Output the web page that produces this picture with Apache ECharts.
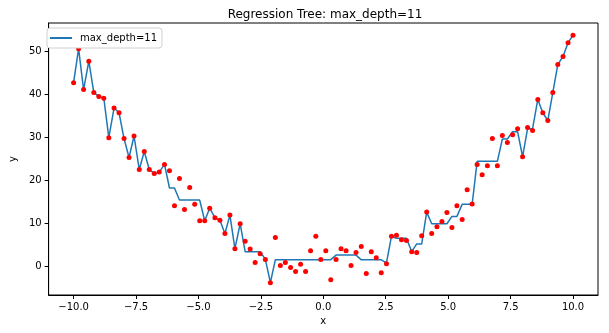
<!DOCTYPE html>
<html>
<head>
<meta charset="utf-8">
<script src="https://cdn.jsdelivr.net/npm/echarts@6/dist/echarts.min.js"></script>
<style>html,body{margin:0;padding:0;background:#fff}#c{width:609px;height:333px}</style>
</head>
<body>
<div id="c"></div>
<script>
const xValues = [-10.00,-9.80,-9.60,-9.39,-9.19,-8.99,-8.79,-8.59,-8.38,-8.18,
-7.98,-7.78,-7.58,-7.37,-7.17,-6.97,-6.77,-6.57,-6.36,-6.16,
-5.96,-5.76,-5.56,-5.35,-5.15,-4.95,-4.75,-4.55,-4.34,-4.14,
-3.94,-3.74,-3.54,-3.33,-3.13,-2.93,-2.73,-2.53,-2.32,-2.12,
-1.92,-1.72,-1.52,-1.31,-1.11,-0.91,-0.71,-0.51,-0.30,-0.10,
0.10,0.30,0.51,0.71,0.91,1.11,1.31,1.52,1.72,1.92,
2.12,2.32,2.53,2.73,2.93,3.13,3.33,3.54,3.74,3.94,
4.14,4.34,4.55,4.75,4.95,5.15,5.35,5.56,5.76,5.96,
6.16,6.36,6.57,6.77,6.97,7.17,7.37,7.58,7.78,7.98,
8.18,8.38,8.59,8.79,8.99,9.19,9.39,9.60,9.80,10.00];

const yPoints = [42.7,50.6,41.1,47.7,40.4,39.5,39.1,29.9,36.8,35.7,
29.7,25.3,30.3,22.5,26.7,22.5,21.6,21.9,23.7,22.2,
14.1,20.4,13.2,18.3,14.4,10.6,10.6,13.5,11.3,10.7,
7.6,11.9,4.1,9.9,5.8,4.0,0.9,2.9,1.6,-3.8,
6.7,0.2,0.9,-0.3,-1.2,0.5,-1.2,3.6,7.0,1.6,
3.6,-3.1,1.6,4.1,3.6,0.2,3.2,4.6,-1.7,3.4,
2.0,-1.5,0.6,7.0,7.2,6.2,6.0,3.4,3.2,7.1,
12.6,7.6,9.2,10.4,12.5,9.0,14.1,10.9,17.8,14.5,
23.7,21.3,23.4,29.7,23.4,30.4,28.8,30.6,32.0,25.5,
32.3,31.6,38.8,35.7,33.9,40.4,46.9,48.8,52.0,53.7];

const yPred = [42.7,50.6,41.1,47.7,40.4,39.5,39.1,29.9,36.8,35.7,
29.7,25.3,30.3,22.5,26.7,22.5,21.6,21.9,23.7,18.2,
18.2,15.4,15.4,15.4,15.4,15.4,10.6,13.5,11.3,10.7,
7.6,11.9,4.1,9.9,3.4,3.4,3.4,3.4,1.6,-3.8,
1.55,1.55,1.55,1.55,1.55,1.55,1.55,1.55,1.55,1.55,
1.55,1.55,2.6,2.6,2.6,2.6,2.6,1.5,1.5,1.5,
1.5,1.5,0.8,7.0,6.5,6.5,6.5,3.4,5.2,5.2,
12.6,9.9,9.9,9.9,9.9,11.6,11.6,14.4,14.4,14.4,
24.4,24.4,24.4,24.4,24.4,29.6,29.6,31.3,31.3,25.5,
32.0,32.0,38.8,35.7,33.9,40.4,46.9,48.8,52.0,53.7];

const xTicks = [-10, -7.5, -5, -2.5, 0, 2.5, 5, 7.5, 10];
const yTicks = [0, 10, 20, 30, 40, 50];
const seriesName = 'max_depth=11';
const titleText = 'Regression Tree: max_depth=11';

const fmtX = v => (v < 0 ? '\u2212' : '') + Math.abs(v).toFixed(1);
const fmtY = v => (v < 0 ? '\u2212' : '') + Math.abs(v);
const font = 'DejaVu Sans';

const chart = echarts.init(document.getElementById('c'), null, {renderer: 'canvas'});
chart.setOption({
  animation: false,
  textStyle: {fontFamily: font, color: '#000'},
  title: {
    text: titleText, left: 320, top: 4, textAlign: 'center',
    textStyle: {fontFamily: font, fontSize: 12, fontWeight: 'normal', color: '#000'}
  },
  grid: {left: 42, right: 11, top: 23, bottom: 38, show: true, borderColor: '#000', borderWidth: 1, backgroundColor: 'transparent'},
  legend: {
    data: [seriesName], left: 47, top: 28, orient: 'vertical',
    backgroundColor: '#fff', borderColor: '#d0d0d0', borderWidth: 1, borderRadius: 3,
    padding: [5, 5, 5, 3], itemWidth: 22, itemHeight: 2, icon: 'rect',
    itemStyle: {color: '#1f77b4'},
    textStyle: {fontFamily: font, fontSize: 10, color: '#000', padding: [0, 0, 0, 3]}
  },
  xAxis: {
    type: 'value', min: -11, max: 11,
    name: 'x', nameLocation: 'middle', nameGap: 21,
    nameTextStyle: {fontFamily: font, fontSize: 10, color: '#000'},
    axisLine: {show: true, onZero: false, lineStyle: {color: '#000', width: 1}},
    axisTick: {show: true, length: 4, lineStyle: {color: '#000'}, customValues: xTicks},
    axisLabel: {fontFamily: font, fontSize: 10, color: '#000', margin: 7, customValues: xTicks, formatter: fmtX},
    splitLine: {show: false}
  },
  yAxis: {
    type: 'value', min: -6.675, max: 56.575,
    name: 'y', nameLocation: 'middle', nameGap: 27,
    nameTextStyle: {fontFamily: font, fontSize: 10, color: '#000'},
    axisLine: {show: true, onZero: false, lineStyle: {color: '#000', width: 1}},
    axisTick: {show: true, length: 4, lineStyle: {color: '#000'}, customValues: yTicks},
    axisLabel: {fontFamily: font, fontSize: 10, color: '#000', margin: 7, customValues: yTicks, formatter: fmtY},
    splitLine: {show: false}
  },
  series: [
    {
      name: seriesName, type: 'line', symbol: 'none',
      data: xValues.map((x, i) => [x, yPred[i]]),
      lineStyle: {color: '#1f77b4', width: 1.5}, itemStyle: {color: '#1f77b4'}, z: 2
    },
    {
      name: 'points', type: 'scatter', symbol: 'circle', symbolSize: 5,
      data: xValues.map((x, i) => [x, yPoints[i]]),
      itemStyle: {color: '#ff0000', opacity: 1}, z: 3
    }
  ]
});
</script>
</body>
</html>
